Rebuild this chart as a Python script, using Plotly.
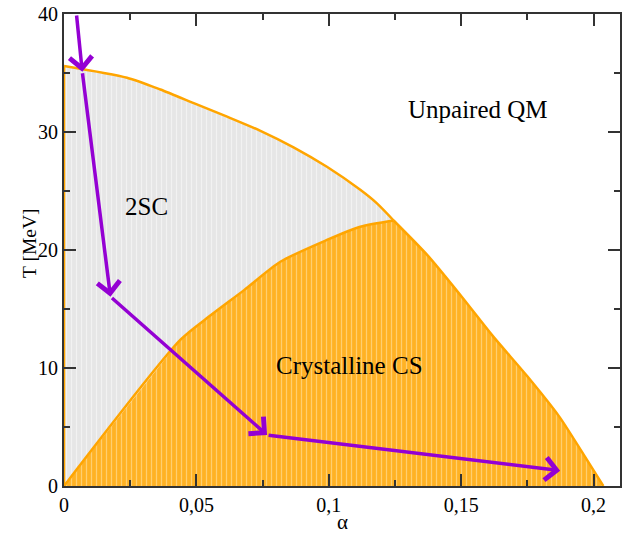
import plotly.graph_objects as go

# Phase boundary: 2SC / Unpaired QM
upper_alpha = [0.0, 0.0238, 0.0364, 0.049, 0.0616, 0.0742, 0.0867, 0.0993, 0.1119, 0.1182, 0.1245]
upper_T = [35.6, 34.6, 33.6, 32.45, 31.3, 30.1, 28.7, 27.05, 25.1, 23.95, 22.5]

# Phase boundary: 2SC / Crystalline CS
lower_alpha = [0.0, 0.044, 0.055, 0.068, 0.0817, 0.0993, 0.1119, 0.1245]
lower_T = [0.0, 12.4, 14.4, 16.6, 19.0, 20.85, 21.97, 22.5]

# Phase boundary: Crystalline CS / Unpaired QM
right_alpha = [0.1245, 0.1375, 0.150, 0.162, 0.175, 0.187, 0.197, 0.2037]
right_T = [22.5, 19.5, 16.1, 12.7, 9.3, 5.9, 2.4, 0.0]

# Cooling path (arrows)
path_alpha = [0.0047, 0.0069, 0.01755, 0.0767, 0.1874]
path_T = [40.0, 35.1, 16.04, 4.32, 1.3]

# Region labels
label_text = ["Unpaired QM", "2SC", "Crystalline CS"]
label_alpha = [0.1564, 0.0311, 0.1077]
label_T = [31.9, 23.7, 10.2]

# Ticks
x_tickvals = [0, 0.05, 0.1, 0.15, 0.2]
x_ticktext = ["0", "0,05", "0,1", "0,15", "0,2"]
y_tickvals = [0, 10, 20, 30, 40]
y_ticktext = ["0", "10", "20", "30", "40"]

x_title = "α"
y_title = "T [MeV]"

SERIF = "Liberation Serif, Times New Roman, serif"
ORANGE = "#ffa500"
AXC = "#333333"

fig = go.Figure()

# Filled regions (outlines drawn as smooth curves below)
grey_x = upper_alpha + lower_alpha[::-1][1:]
grey_y = upper_T + lower_T[::-1][1:]
fig.add_trace(go.Scatter(
    x=grey_x, y=grey_y, mode="lines", fill="toself",
    fillcolor="#e5e5e5",
    fillpattern=dict(shape="|", bgcolor="#e6e6e6", fgcolor="#f2f2f2",
                     fgopacity=1, size=5, solidity=0.25),
    line=dict(width=0, color="rgba(0,0,0,0)"), hoverinfo="skip", showlegend=False))

orange_x = lower_alpha + right_alpha[1:]
orange_y = lower_T + right_T[1:]
fig.add_trace(go.Scatter(
    x=orange_x, y=orange_y, mode="lines", fill="toself",
    fillcolor="#ffb22a",
    fillpattern=dict(shape="|", bgcolor="#ffb224", fgcolor="#ffcf70",
                     fgopacity=1, size=5, solidity=0.25),
    line=dict(width=0, color="rgba(0,0,0,0)"), hoverinfo="skip", showlegend=False))

# Boundary curves
for xs, ys in [([upper_alpha[0], lower_alpha[0]], [upper_T[0], lower_T[0]]),
               (upper_alpha, upper_T), (lower_alpha, lower_T), (right_alpha, right_T)]:
    fig.add_trace(go.Scatter(
        x=xs, y=ys, mode="lines",
        line=dict(color=ORANGE, width=2.5, shape="spline", smoothing=0.7),
        hoverinfo="skip", showlegend=False))

annotations = []
for i in range(len(path_alpha) - 1):
    annotations.append(dict(
        x=path_alpha[i + 1], y=path_T[i + 1], xref="x", yref="y",
        ax=path_alpha[i], ay=path_T[i], axref="x", ayref="y",
        text="", showarrow=True, arrowhead=4, arrowsize=1.25,
        arrowwidth=3.5, arrowcolor="#9400d3"))
for t, a, T in zip(label_text, label_alpha, label_T):
    annotations.append(dict(
        x=a, y=T, xref="x", yref="y", text=t, showarrow=False,
        font=dict(family=SERIF, size=25, color="black")))
annotations.append(dict(
    x=0.5, y=-0.076, xref="paper", yref="paper", text=x_title, showarrow=False,
    xanchor="center", yanchor="middle", font=dict(family=SERIF, size=21, color="black")))
annotations.append(dict(
    x=-0.0612, y=0.515, xref="paper", yref="paper", text=y_title, showarrow=False,
    textangle=-90, xanchor="center", yanchor="middle",
    font=dict(family=SERIF, size=19.5, color="black")))

axis_common = dict(
    showgrid=False, zeroline=False, showline=True, linecolor=AXC, linewidth=2,
    mirror="ticks", ticks="inside", ticklen=12, tickwidth=1.5, tickcolor=AXC,
    tickfont=dict(family=SERIF, size=20, color="black"), layer="above traces",
    automargin=False)

fig.update_layout(
    width=630, height=534,
    margin=dict(l=64, r=10, t=14, b=48),
    paper_bgcolor="white", plot_bgcolor="white",
    annotations=annotations,
    xaxis=dict(range=[0, 0.21], tickmode="array", tickvals=x_tickvals, ticktext=x_ticktext,
               minor=dict(tickmode="linear", tick0=0, dtick=0.025, ticks="inside",
                          ticklen=6, tickwidth=1.5, tickcolor=AXC),
               **axis_common),
    yaxis=dict(range=[0, 40], tickmode="array", tickvals=y_tickvals, ticktext=y_ticktext,
               minor=dict(tickmode="linear", tick0=0, dtick=5, ticks="inside",
                          ticklen=6, tickwidth=1.5, tickcolor=AXC),
               **axis_common),
)

fig.write_html("out.html", config={"displayModeBar": False},
               post_script="document.body.style.margin='0px';document.body.style.overflow='hidden';")
